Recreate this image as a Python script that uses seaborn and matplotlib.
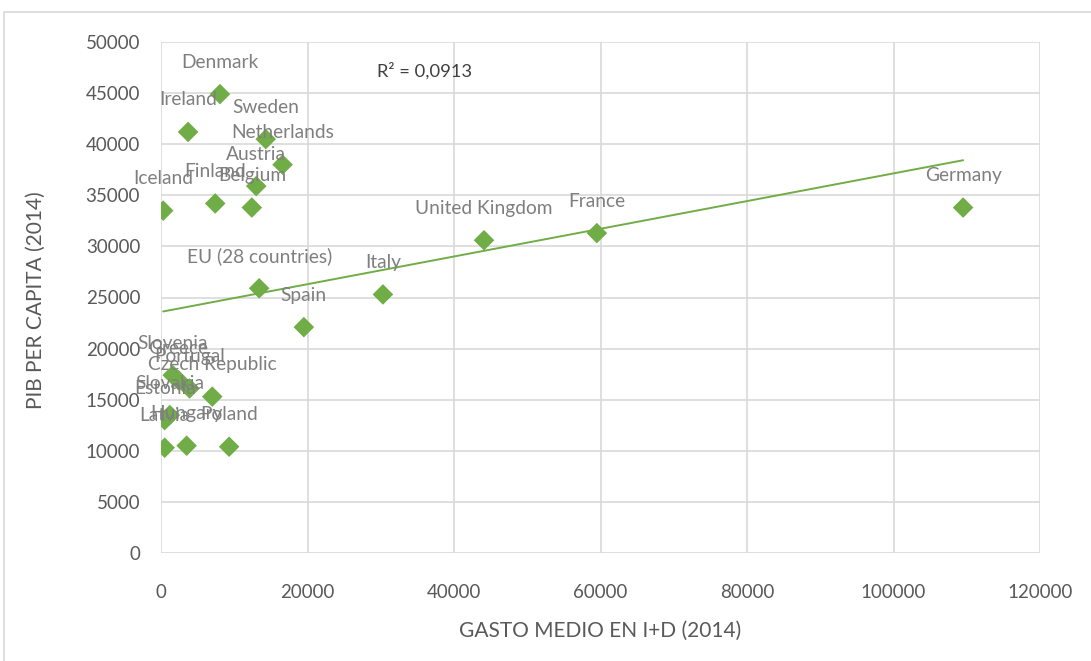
import numpy as np
import pandas as pd
import matplotlib
matplotlib.use("Agg")
import matplotlib.pyplot as plt
from matplotlib.patches import Rectangle
import seaborn as sns

# Average R&D spending vs GDP per capita, 2014
countries = [
    "Denmark", "Ireland", "Sweden", "Netherlands", "Austria", "Finland",
    "Belgium", "Iceland", "United Kingdom", "France", "Germany",
    "EU (28 countries)", "Italy", "Spain", "Slovenia", "Greece", "Portugal",
    "Czech Republic", "Slovakia", "Estonia", "Hungary", "Poland", "Latvia",
]
gasto_id = [
    8050, 3700, 14300, 16600, 13000, 7400,
    12400, 300, 44100, 59500, 109500,
    13400, 30300, 19500, 1600, 2400, 3900,
    7000, 1200, 500, 3500, 9300, 500,
]
pib_pc = [
    44900, 41200, 40500, 38000, 35900, 34200,
    33800, 33500, 30600, 31300, 33800,
    25900, 25300, 22100, 17400, 16900, 16100,
    15300, 13500, 13000, 10500, 10400, 10300,
]
x_ticks = [0, 20000, 40000, 60000, 80000, 100000, 120000]
y_ticks = list(range(0, 50001, 5000))
r2_label = "R² = 0,0913"

df = pd.DataFrame({"pais": countries, "gasto": gasto_id, "pib": pib_pc})

sns.set_theme(style="white")
plt.rcParams["font.family"] = ["Lato", "DejaVu Sans"]

green = "#70AD47"
tick_gray = "#595959"
label_gray = "#7F7F7F"
grid_gray = "#D9D9D9"

fig = plt.figure(figsize=(10.91, 6.61), dpi=100)
ax = fig.add_axes([161 / 1091, 1 - 553 / 661, (1040 - 161) / 1091, (553 - 42) / 661])

# chart-area frame
fig.patches.append(Rectangle((4 / 1091, -0.1), 1.2, 1 - 12 / 661 + 0.1,
                             transform=fig.transFigure, fill=False,
                             edgecolor=grid_gray, linewidth=1.2, zorder=0))

# linear trendline over the data range
sns.regplot(data=df, x="gasto", y="pib", ax=ax, scatter=False, ci=None,
            truncate=True, line_kws={"color": green, "linewidth": 1.4, "zorder": 2})

sns.scatterplot(data=df, x="gasto", y="pib", ax=ax, marker="D", s=110,
                color=green, edgecolor="none", zorder=3, legend=False)

for name, xv, yv in zip(countries, gasto_id, pib_pc):
    ax.annotate(name, (xv, yv), xytext=(0, 23), textcoords="offset points",
                ha="center", va="center", fontsize=13.8, color=label_gray,
                zorder=4)

ax.text(0.30, 0.943, r2_label, transform=ax.transAxes, ha="center",
        va="center", fontsize=13.2, color="#404040")

ax.set_xlim(0, 120000)
ax.set_ylim(0, 50000)
ax.set_xticks(x_ticks)
ax.set_yticks(y_ticks)
ax.set_xticklabels([str(v) for v in x_ticks])
ax.set_yticklabels([str(v) for v in y_ticks])
ax.tick_params(axis="x", length=0, pad=22, labelsize=13.5, labelcolor=tick_gray)
ax.tick_params(axis="y", length=0, pad=15, labelsize=13.5, labelcolor=tick_gray)

ax.grid(True, color=grid_gray, linewidth=1.2)
ax.set_axisbelow(True)
for sp in ax.spines.values():
    sp.set_visible(False)

ax.set_xlabel("GASTO MEDIO EN I+D (2014)", fontsize=15, color=tick_gray)
ax.set_ylabel("PIB PER CAPITA (2014)", fontsize=15, color=tick_gray)
ax.xaxis.set_label_coords(0.5, -0.132)
ax.yaxis.set_label_coords(-0.131, 0.495)

fig.savefig("out.png", dpi=100, facecolor="white")
